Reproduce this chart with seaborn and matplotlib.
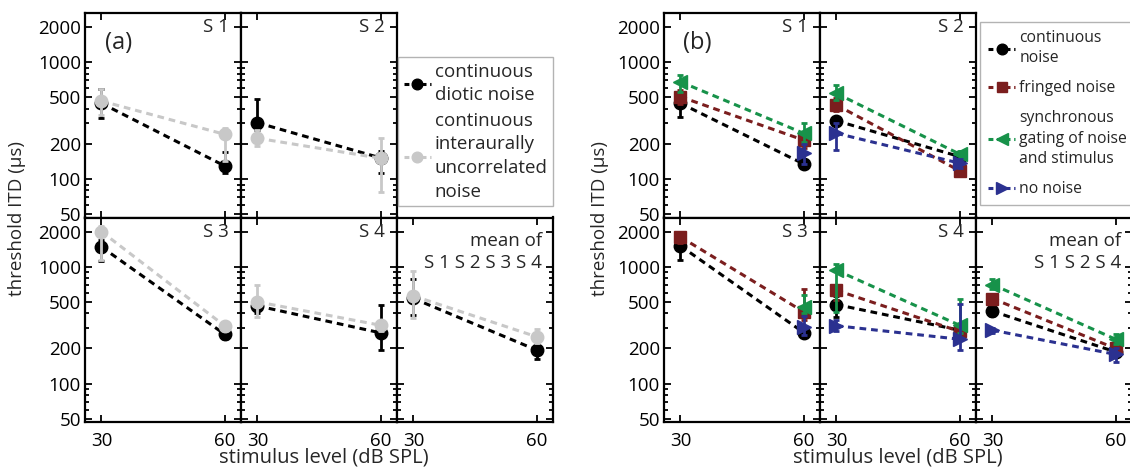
import numpy as np
import pandas as pd
import matplotlib
matplotlib.use("Agg")
import matplotlib.pyplot as plt
from matplotlib.lines import Line2D
from matplotlib.ticker import NullFormatter, FixedLocator, FixedFormatter
import seaborn as sns

sns.set_theme(style="ticks")
plt.rcParams["font.family"] = ["Open Sans", "DejaVu Sans"]

nan = np.nan
levels = [30, 60]
yticks = [50, 100, 200, 500, 1000, 2000]
ytick_labels = ["50", "100", "200", "500", "1000", "2000"]
titles_a = ["S 1", "S 2", "S 3", "S 4", "mean of\nS 1 S 2 S 3 S 4"]
titles_b = ["S 1", "S 2", "S 3", "S 4", "mean of\nS 1 S 2 S 4"]

# ---- (a) rows: S1, S2, S3, S4, mean ; columns: 30 dB, 60 dB ----
a_diotic = [[446, 130], [304, 152], [1480, 265], [463, 272], [536, 194]]
a_diotic_lo = [[336, 112], [262, 114], [1114, 240], [400, 194], [390, 162]]
a_diotic_hi = [[590, 172], [482, 175], [1700, 290], [530, 475], [793, 215]]

a_uncorr = [[466, 242], [224, 151], [2000, 313], [501, 316], [564, 252]]
a_uncorr_lo = [[353, 144], [191, 77], [1150, 280], [373, 280], [366, 225]]
a_uncorr_hi = [[586, 274], [262, 224], [2250, 335], [695, 345], [916, 293]]

# ---- (b) ----
b_cont = [[446, 135], [316, 156], [1510, 274], [475, 287], [417, 187]]
b_cont_lo = [[339, 125], [290, 145], [1136, 250], [370, 260], [380, 175]]
b_cont_hi = [[520, 145], [340, 165], [1750, 290], [560, 310], [460, 200]]

b_fringe = [[507, 216], [431, 118], [1800, 412], [630, 280], [535, 200]]
b_fringe_lo = [[440, 185], [380, 110], [1600, 350], [520, 250], [480, 185]]
b_fringe_hi = [[580, 250], [490, 130], [2000, 643], [700, 310], [590, 215]]

b_sync = [[681, 247], [542, 164], [nan, 454], [934, 316], [705, 240]]
b_sync_lo = [[560, 210], [480, 150], [nan, 400], [413, 270], [640, 220]]
b_sync_hi = [[778, 301], [639, 175], [nan, 571], [1065, 535], [780, 265]]

b_none = [[nan, 166], [247, 137], [nan, 306], [313, 240], [287, 178]]
b_none_lo = [[nan, 135], [178, 125], [nan, 260], [280, 194], [270, 154]]
b_none_hi = [[nan, 200], [300, 150], [nan, 377], [350, 484], [300, 200]]

labels_a = ["continuous\ndiotic noise",
            "continuous\ninteraurally\nuncorrelated\nnoise"]
labels_b = ["continuous\nnoise", "fringed noise",
            "synchronous\ngating of noise\nand stimulus", "no noise"]

series_a = [
    dict(y=a_diotic, lo=a_diotic_lo, hi=a_diotic_hi, color="black", marker="o", ms=9),
    dict(y=a_uncorr, lo=a_uncorr_lo, hi=a_uncorr_hi, color="#c8c8c8", marker="o", ms=9),
]
series_b = [
    dict(y=b_cont, lo=b_cont_lo, hi=b_cont_hi, color="black", marker="o", ms=9),
    dict(y=b_fringe, lo=b_fringe_lo, hi=b_fringe_hi, color="#7b1e1e", marker="s", ms=8),
    dict(y=b_sync, lo=b_sync_lo, hi=b_sync_hi, color="#17924a", marker="<", ms=10.5),
    dict(y=b_none, lo=b_none_lo, hi=b_none_hi, color="#2b3190", marker=">", ms=10.5),
]

W, H = 1130, 468
fig = plt.figure(figsize=(W / 100, H / 100), dpi=100)
fig.patch.set_facecolor("white")

FS = 13.5
DASH = (0, (2.2, 1.6))
ROW_TOP = [13, 217.5]
ROW_H = 204.5
COL_W = 156


def px_axes(left, top, w, h):
    return fig.add_axes([left / W, 1 - (top + h) / H, w / W, h / H])


def style_axes(ax, show_y, show_x):
    ax.set_yscale("log")
    ax.set_ylim(47, 2640)
    ax.set_xlim(26, 64)
    ax.yaxis.set_major_locator(FixedLocator(yticks))
    ax.yaxis.set_major_formatter(FixedFormatter(ytick_labels if show_y else [""] * 6))
    ax.yaxis.set_minor_formatter(NullFormatter())
    ax.set_xticks(levels)
    ax.set_xticklabels([str(v) for v in levels] if show_x else ["", ""])
    ax.tick_params(which="both", direction="in", left=True, right=True,
                   top=True, bottom=True, colors="black", labelsize=FS,
                   width=1.3)
    ax.tick_params(which="major", length=5, pad=3)
    ax.tick_params(axis="x", which="major", pad=7)
    ax.tick_params(which="minor", length=3)
    ax.tick_params(axis="x", which="minor", top=False, bottom=False)
    for s in ax.spines.values():
        s.set_linewidth(1.6)
        s.set_color("black")
    ax.set_xlabel("")
    ax.set_ylabel("")
    ax.set_facecolor("white")


def draw_panel(x0, titles, series, letter):
    slots = [(0, 0), (0, 1), (1, 0), (1, 1), (1, 2)]
    axes = []
    for k, (r, c) in enumerate(slots):
        ax = px_axes(x0 + c * COL_W, ROW_TOP[r], COL_W, ROW_H)
        for s in series:
            yv = np.array(s["y"][k], dtype=float)
            lo = np.array(s["lo"][k], dtype=float)
            hi = np.array(s["hi"][k], dtype=float)
            df = pd.DataFrame({"level": levels, "thr": yv})
            sns.lineplot(data=df, x="level", y="thr", ax=ax, estimator=None,
                         color=s["color"], marker=s["marker"], markersize=s["ms"],
                         markeredgecolor=s["color"], markeredgewidth=1,
                         linestyle=DASH, linewidth=2.2, legend=False)
            ok = ~np.isnan(yv)
            ax.errorbar(np.array(levels)[ok], yv[ok],
                        yerr=[yv[ok] - lo[ok], hi[ok] - yv[ok]],
                        fmt="none", ecolor=s["color"], elinewidth=2,
                        capsize=2.2, capthick=2)
        style_axes(ax, show_y=(c == 0), show_x=(r == 1))
        if k == 4:
            ax.text(0.93, 0.93, titles[k], transform=ax.transAxes, ha="right",
                    va="top", fontsize=FS, multialignment="right",
                    linespacing=1.3)
        else:
            ax.text(0.92, 0.975, titles[k], transform=ax.transAxes, ha="right",
                    va="top", fontsize=FS)
        axes.append(ax)
    axes[0].text(0.125, 0.853, letter, transform=axes[0].transAxes,
                 ha="left", va="center", fontsize=17)
    return axes


axes_a = draw_panel(85, titles_a, series_a, "(a)")
axes_b = draw_panel(664, titles_b, series_b, "(b)")

# axis labels
for xc, yl in [(17, 218), (600, 218)]:
    fig.text(xc / W, 1 - yl / H, "threshold ITD (µs)", rotation=90,
             ha="center", va="center", fontsize=FS)
for xc in [85 + 1.53 * COL_W, 664 + 1.5 * COL_W]:
    fig.text(xc / W, 1 - 458 / H, "stimulus level (dB SPL)",
             ha="center", va="center", fontsize=14.5)


def handles_for(series):
    return [Line2D([0], [0], color=s["color"], linestyle=(0, (1.6, 1.2)),
                   linewidth=2.2, marker=s["marker"],
                   markersize=s["ms"] * 0.85, markeredgecolor=s["color"])
            for s in series]


leg_a = fig.legend(handles_for(series_a), labels_a, loc="upper left",
                   bbox_to_anchor=(398 / W, 1 - 57 / H), bbox_transform=fig.transFigure,
                   borderaxespad=0, fontsize=FS, frameon=True, fancybox=False,
                   edgecolor="#a0a0a0", handlelength=1.45, handletextpad=0.2,
                   labelspacing=0.4, borderpad=0.3)
leg_a.get_frame().set_linewidth(1.0)
for t in leg_a.get_texts():
    t.set_linespacing(1.4)

leg_b = fig.legend(handles_for(series_b), labels_b, loc="upper left",
                   bbox_to_anchor=(980 / W, 1 - 22 / H), bbox_transform=fig.transFigure,
                   borderaxespad=0, fontsize=11.3, frameon=True, fancybox=False,
                   edgecolor="#a0a0a0", handlelength=1.75, handletextpad=0.25,
                   labelspacing=0.9, borderpad=0.5)
leg_b.get_frame().set_linewidth(1.0)
for t in leg_b.get_texts():
    t.set_linespacing(1.36)

fig.savefig("out.png", dpi=100, facecolor="white")
